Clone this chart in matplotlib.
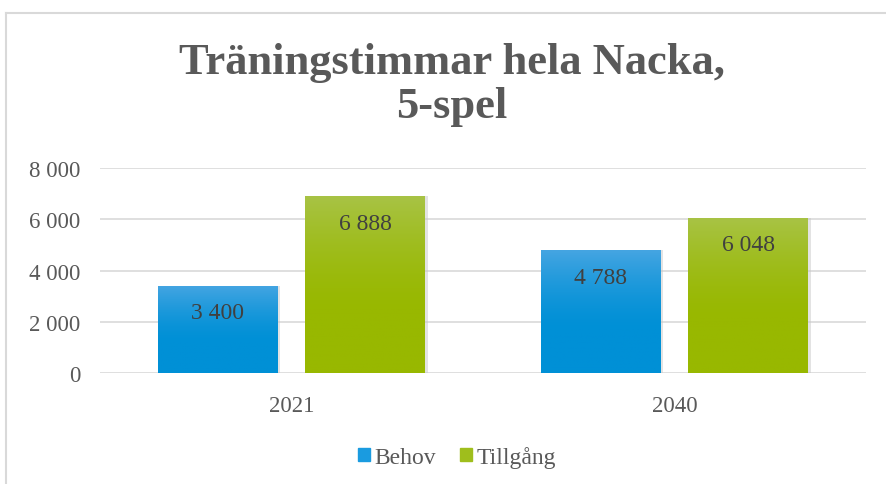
import matplotlib
matplotlib.use("Agg")
import matplotlib.pyplot as plt
import numpy as np
from matplotlib.colors import LinearSegmentedColormap
from matplotlib.patches import Rectangle, Patch
from matplotlib.ticker import FuncFormatter

categories = ["2021", "2040"]
series_names = ["Behov", "Tillgång"]
behov = [3400, 4788]
tillgang = [6888, 6048]
value_labels = [["3 400", "4 788"], ["6 888", "6 048"]]
yticks = [0, 2000, 4000, 6000, 8000]

serif = ["Liberation Serif", "DejaVu Serif"]
plt.rcParams["font.family"] = serif

W, H = 886, 485
fig = plt.figure(figsize=(W / 100, H / 100), dpi=100)
fig.patch.set_facecolor("white")

# border (top and left visible)
fig.add_artist(plt.Line2D([6 / W, 1], [1 - 14 / H, 1 - 14 / H], color="#d9d9d9", lw=1.5,
                          transform=fig.transFigure))
fig.add_artist(plt.Line2D([6 / W, 6 / W], [0, 1 - 14 / H], color="#d9d9d9", lw=1.5,
                          transform=fig.transFigure))

ax = fig.add_axes([100 / W, 1 - 374 / H, 766 / W, 205 / H])
ax.set_xlim(-0.5, 1.5)
ax.set_ylim(0, 8000)

x = np.arange(len(categories))
bw = 0.313
off = 0.193
grad_colors = [("#45a5e2", "#0090d6"), ("#a8c345", "#98b800")]
edge_cols = ["#0090d6", "#98b800"]
all_series = [behov, tillgang]
bar_containers = []
for i, (vals, name) in enumerate(zip(all_series, series_names)):
    bars = ax.bar(x + (2 * i - 1) * off, vals, width=bw, color=edge_cols[i], zorder=3, label=name)
    bar_containers.append(bars)
    cmap = LinearSegmentedColormap.from_list("g%d" % i, [grad_colors[i][1], grad_colors[i][0]])
    for b in bars:
        x0, y0 = b.get_x(), b.get_y()
        w, h = b.get_width(), b.get_height()
        sh = Rectangle((x0 + 0.006, y0), w, h, color="#c8c8c8", alpha=0.5, zorder=2, lw=0)
        ax.add_patch(sh)
        grad = np.linspace(0, 1, 256).reshape(-1, 1)
        grad = np.clip((grad - 0.35) / 0.65, 0, 1) ** 1.5
        im = ax.imshow(grad, extent=[x0, x0 + w, y0, y0 + h], origin="lower", aspect="auto",
                       cmap=cmap, zorder=4)
        im.set_clip_path(b)

for i, bars in enumerate(bar_containers):
    for j, b in enumerate(bars):
        ax.text(b.get_x() + b.get_width() / 2, b.get_height() - 1050, value_labels[i][j],
                ha="center", va="center", fontsize=17, color="#404040", zorder=5)

ax.set_yticks(yticks)
ax.yaxis.set_major_formatter(FuncFormatter(lambda v, p: f"{int(v):,}".replace(",", " ")))
ax.set_xticks(x)
ax.set_xticklabels(categories)
ax.tick_params(axis="both", length=0, labelsize=16.5, colors="#595959")
ax.tick_params(axis="y", pad=14)
ax.tick_params(axis="x", pad=16)
ax.grid(axis="y", color="#d9d9d9", lw=1.2, zorder=0)
ax.set_axisbelow(True)
for s in ax.spines.values():
    s.set_visible(False)
ax.set_aspect("auto")

fig.text(452 / W, 1 - 85 / H, "Träningstimmar hela Nacka,\n5-spel", ha="center", va="center",
         fontsize=32, fontweight="bold", color="#595959", linespacing=1.15)

handles = [Patch(color="#1a9be0", label="Behov"), Patch(color="#9fbe1c", label="Tillgång")]
fig.legend(handles=handles, loc="center", bbox_to_anchor=(457 / W, 1 - 458 / H), ncol=2,
           frameon=False, fontsize=17, handlelength=0.5, handleheight=0.5, handletextpad=0.2,
           columnspacing=1.0, labelcolor="#595959")

fig.savefig("out.png", dpi=100, facecolor="white")
